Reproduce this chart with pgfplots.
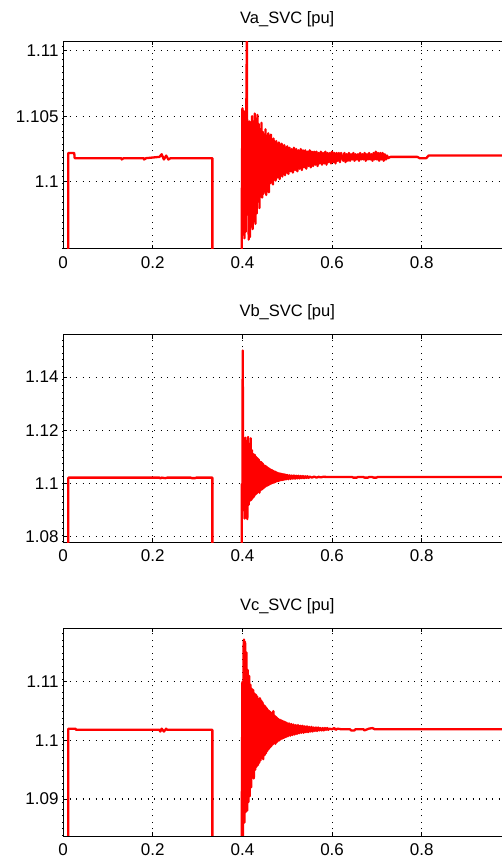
\documentclass[border=0pt]{standalone}
\usepackage{pgfplots}
\pgfplotsset{compat=1.18}
\usepackage{fontspec}
\setmainfont{Liberation Sans}
\pgfplotsset{
  svc/.style={
    scale only axis, width=448.5pt, height=207.5pt,
    anchor=south west,
    xmin=0, xmax=1,
    xtick={0,0.2,0.4,0.6,0.8},
    extra x ticks={1}, extra x tick labels={},
    grid=major,
    major grid style={black, line width=1.1pt, dash pattern=on 1.1pt off 5.4pt},
    axis line style={black, line width=0.8pt},
    tick style={black, line width=0.7pt},
    major tick length=4pt,
    tick align=inside,
    /pgf/number format/assume math mode=true,
    tick label style={font=\fontsize{17}{19}\selectfont},
    xticklabel style={yshift=-4pt},
    yticklabel style={xshift=-1pt, /pgf/number format/precision=3},
    title style={at={(0.5,1)}, anchor=base, yshift=12pt, font=\fontsize{16.5}{19}\selectfont},
  },
  svcline/.style={red, line width=2.3pt, line join=round},
}
\begin{document}
\begin{tikzpicture}[x=1pt,y=1pt]
\useasboundingbox (0,0) rectangle (502,861);
\clip (0,0) rectangle (502,861);
% ---------------- Va ----------------
\begin{axis}[svc, at={(63pt,612pt)}, ymin=1.0949, ymax=1.1107,
  ytick={1.1,1.105,1.11}, title={Va\_SVC [pu]}]
\addplot[svcline] table {
0 0
0.0115 0
0.0118 1.1022
0.0250 1.1022
0.0260 1.1018
0.1300 1.1018
0.1310 1.1017
0.1350 1.1018
0.1800 1.1018
0.1810 1.1017
0.1850 1.1018
0.2150 1.1019
0.2200 1.1021
0.2250 1.1017
0.2300 1.1020
0.2350 1.1017
0.2400 1.1018
0.3330 1.1018
0.3335 0
0.3980 0
0.3985 1.0975
0.4000 1.1056
0.4015 1.0960
0.4030 1.1054
0.4045 1.0957
0.4060 1.1048
0.4075 1.0962
0.4090 1.1070
0.4100 1.1112
0.4110 1.0975
0.4125 1.1040
0.4140 1.0956
0.4155 1.1046
0.4170 1.0958
0.4185 1.1042
0.4200 1.0966
0.4215 1.1050
0.4230 1.0964
0.4245 1.1046
0.4260 1.0970
0.4275 1.1052
0.4290 1.0968
0.4305 1.1048
0.4320 1.0976
0.4335 1.1051
0.4350 1.0985
0.4365 1.1044
0.4380 1.0980
0.4395 1.1040
0.4410 1.0990
0.4425 1.1045
0.4440 1.0988
0.4455 1.1038
0.4470 1.0991
0.4485 1.1036
0.4500 1.0993
0.4515 1.1040
0.4530 1.0990
0.4545 1.1035
0.4560 1.0996
0.4575 1.1037
0.4590 1.0992
0.4605 1.1033
0.4620 1.0999
0.4635 1.1036
0.4650 1.1000
0.4665 1.1031
0.4680 1.0998
0.4695 1.1033
0.4710 1.1002
0.4725 1.1030
0.4740 1.1001
0.4755 1.1031
0.4770 1.1003
0.4785 1.1029
0.4800 1.1004
0.4815 1.1030
0.4830 1.1002
0.4845 1.1028
0.4860 1.1005
0.4875 1.1029
0.4890 1.1004
0.4905 1.1027
0.4920 1.1006
0.4935 1.1028
0.4950 1.1005
0.4965 1.1026
0.4980 1.1007
0.5000 1.1027
0.5025 1.1006
0.5050 1.1026
0.5075 1.1008
0.5100 1.1025
0.5125 1.1007
0.5150 1.1026
0.5175 1.1009
0.5200 1.1025
0.5225 1.1008
0.5250 1.1024
0.5275 1.1010
0.5300 1.1025
0.5325 1.1009
0.5350 1.1024
0.5375 1.1011
0.5400 1.1024
0.5425 1.1010
0.5450 1.1023
0.5475 1.1012
0.5500 1.1024
0.5525 1.1011
0.5550 1.1023
0.5575 1.1012
0.5600 1.1023
0.5625 1.1013
0.5650 1.1023
0.5675 1.1012
0.5700 1.1022
0.5725 1.1014
0.5750 1.1023
0.5775 1.1013
0.5800 1.1022
0.5825 1.1014
0.5850 1.1023
0.5875 1.1013
0.5900 1.1022
0.5925 1.1015
0.5950 1.1022
0.5975 1.1014
0.6000 1.1023
0.6025 1.1015
0.6050 1.1022
0.6075 1.1014
0.6100 1.1022
0.6125 1.1016
0.6150 1.1022
0.6175 1.1015
0.6200 1.1022
0.6250 1.1016
0.6275 1.1022
0.6300 1.1015
0.6325 1.1021
0.6350 1.1016
0.6375 1.1022
0.6400 1.1016
0.6425 1.1021
0.6450 1.1017
0.6475 1.1022
0.6500 1.1016
0.6525 1.1021
0.6550 1.1017
0.6575 1.1021
0.6600 1.1016
0.6625 1.1022
0.6650 1.1017
0.6675 1.1021
0.6700 1.1017
0.6725 1.1022
0.6750 1.1016
0.6775 1.1021
0.6800 1.1017
0.6825 1.1022
0.6850 1.1017
0.6875 1.1021
0.6900 1.1016
0.6925 1.1022
0.6950 1.1017
0.6975 1.1023
0.7000 1.1017
0.7025 1.1022
0.7050 1.1016
0.7075 1.1022
0.7100 1.1017
0.7125 1.1022
0.7150 1.1016
0.7175 1.1021
0.7200 1.1017
0.7225 1.1020
0.7250 1.1018
0.7300 1.1019
0.7900 1.1019
0.7950 1.1018
0.8100 1.1018
0.8150 1.1020
1.0000 1.1020
};
\end{axis}
% ---------------- Vb ----------------
\begin{axis}[svc, at={(63pt,318.7pt)}, ymin=1.0779, ymax=1.1559,
  ytick={1.08,1.1,1.12,1.14}, title={Vb\_SVC [pu]}]
\addplot[svcline] table {
0 0
0.0115 0
0.0118 1.1022
0.2150 1.1022
0.2170 1.1019
0.2200 1.1022
0.2280 1.1020
0.2330 1.1022
0.2850 1.1022
0.2870 1.1020
0.2950 1.1020
0.2970 1.1022
0.3330 1.1022
0.3335 0
0.3980 0
0.3985 1.0998
0.4000 1.0998
0.4007 1.1500
0.4020 1.0900
0.4035 1.1150
0.4050 1.0868
0.4065 1.1172
0.4080 1.0880
0.4095 1.1160
0.4110 1.0866
0.4125 1.1175
0.4140 1.0920
0.4155 1.1130
0.4170 1.0935
0.4185 1.1170
0.4200 1.0938
0.4215 1.1125
0.4230 1.0945
0.4245 1.1110
0.4260 1.0950
0.4275 1.1108
0.4290 1.0958
0.4305 1.1100
0.4320 1.0962
0.4335 1.1095
0.4350 1.0968
0.4365 1.1090
0.4380 1.0965
0.4395 1.1082
0.4410 1.0975
0.4425 1.1080
0.4440 1.0978
0.4455 1.1075
0.4470 1.0982
0.4485 1.1068
0.4500 1.0986
0.4515 1.1066
0.4530 1.0990
0.4545 1.1062
0.4560 1.0992
0.4575 1.1058
0.4590 1.0995
0.4605 1.1055
0.4620 1.0998
0.4635 1.1052
0.4650 1.1000
0.4665 1.1050
0.4680 1.1002
0.4695 1.1046
0.4710 1.1004
0.4725 1.1045
0.4740 1.1006
0.4755 1.1042
0.4770 1.1008
0.4785 1.1040
0.4800 1.1009
0.4815 1.1038
0.4830 1.1011
0.4845 1.1037
0.4860 1.1012
0.4875 1.1036
0.4890 1.1013
0.4905 1.1035
0.4920 1.1014
0.4935 1.1034
0.4950 1.1015
0.4965 1.1033
0.4980 1.1016
0.5000 1.1032
0.5025 1.1016
0.5050 1.1031
0.5075 1.1017
0.5100 1.1030
0.5125 1.1018
0.5150 1.1030
0.5175 1.1018
0.5200 1.1029
0.5225 1.1019
0.5250 1.1029
0.5275 1.1019
0.5300 1.1028
0.5325 1.1020
0.5350 1.1028
0.5375 1.1020
0.5400 1.1027
0.5425 1.1021
0.5450 1.1027
0.5475 1.1021
0.5500 1.1026
0.5550 1.1022
0.5600 1.1026
0.5650 1.1022
0.5700 1.1025
0.5750 1.1023
0.5800 1.1025
0.6000 1.1024
0.6450 1.1024
0.6470 1.1022
0.6550 1.1022
0.6570 1.1024
0.6700 1.1024
0.6720 1.1022
0.6800 1.1022
0.6820 1.1024
0.6900 1.1024
0.6920 1.1022
0.6990 1.1022
0.7010 1.1024
1.0000 1.1024
};
\end{axis}
% ---------------- Vc ----------------
\begin{axis}[svc, at={(63pt,25pt)}, ymin=1.0837, ymax=1.1191,
  ytick={1.09,1.1,1.11}, title={Vc\_SVC [pu]}]
\addplot[svcline] table {
0 0
0.0115 0
0.0118 1.1020
0.0280 1.1020
0.0290 1.1018
0.2150 1.1018
0.2170 1.1015
0.2200 1.1020
0.2250 1.1015
0.2300 1.1020
0.2320 1.1018
0.3330 1.1018
0.3335 0
0.3980 0
0.3985 1.0850
0.4000 1.1100
0.4010 1.0830
0.4025 1.1160
0.4036 1.1172
0.4045 1.0860
0.4060 1.1168
0.4075 1.0878
0.4090 1.1150
0.4105 1.0880
0.4120 1.1120
0.4135 1.0895
0.4150 1.1110
0.4165 1.0905
0.4180 1.1095
0.4195 1.0920
0.4210 1.1088
0.4225 1.0942
0.4240 1.1086
0.4255 1.0935
0.4270 1.1080
0.4285 1.0950
0.4300 1.1078
0.4315 1.0955
0.4330 1.1075
0.4345 1.0958
0.4360 1.1070
0.4375 1.0962
0.4390 1.1072
0.4405 1.0966
0.4420 1.1068
0.4435 1.0970
0.4450 1.1065
0.4465 1.0968
0.4480 1.1060
0.4495 1.0975
0.4510 1.1058
0.4525 1.0978
0.4540 1.1055
0.4555 1.0982
0.4570 1.1052
0.4585 1.0985
0.4600 1.1050
0.4615 1.0988
0.4630 1.1048
0.4645 1.0990
0.4660 1.1046
0.4675 1.0993
0.4690 1.1050
0.4705 1.0995
0.4720 1.1042
0.4735 1.0994
0.4750 1.1040
0.4765 1.0997
0.4780 1.1038
0.4795 1.0999
0.4810 1.1036
0.4825 1.1000
0.4840 1.1035
0.4855 1.1002
0.4870 1.1034
0.4885 1.1003
0.4900 1.1033
0.4915 1.1004
0.4930 1.1032
0.4945 1.1005
0.4960 1.1031
0.4975 1.1006
0.4990 1.1030
0.5015 1.1007
0.5040 1.1029
0.5065 1.1008
0.5090 1.1028
0.5115 1.1009
0.5140 1.1027
0.5165 1.1010
0.5190 1.1026
0.5215 1.1011
0.5240 1.1026
0.5265 1.1012
0.5290 1.1025
0.5315 1.1013
0.5340 1.1025
0.5365 1.1013
0.5390 1.1024
0.5415 1.1014
0.5440 1.1024
0.5465 1.1014
0.5490 1.1023
0.5515 1.1015
0.5540 1.1023
0.5565 1.1015
0.5590 1.1022
0.5615 1.1016
0.5640 1.1022
0.5665 1.1016
0.5690 1.1022
0.5715 1.1017
0.5740 1.1021
0.5765 1.1017
0.5790 1.1021
0.5815 1.1017
0.5840 1.1021
0.5865 1.1018
0.5890 1.1021
0.5915 1.1018
0.5940 1.1020
0.6000 1.1019
0.6050 1.1021
0.6080 1.1018
0.6120 1.1020
0.6200 1.1019
0.6400 1.1019
0.6420 1.1017
0.6500 1.1017
0.6520 1.1019
0.6700 1.1019
0.6720 1.1017
0.6820 1.1020
0.6900 1.1021
0.6950 1.1019
1.0000 1.1019
};
\end{axis}
\end{tikzpicture}
\end{document}
